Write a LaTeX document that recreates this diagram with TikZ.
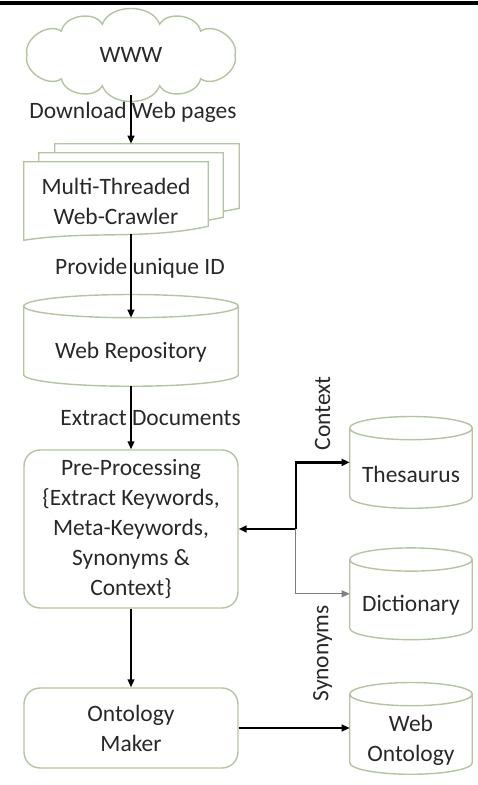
\documentclass[tikz,border=0pt]{standalone}
\usepackage{fontspec}
\setmainfont{Carlito}
\usetikzlibrary{arrows.meta,positioning,backgrounds,calc}

\definecolor{boxgreen}{RGB}{178,196,160}
\definecolor{inkgray}{RGB}{40,40,40}

\tikzset{
  every node/.style={font=\fontsize{16.7}{21.3}\selectfont, text=inkgray, align=center},
  boxline/.style={draw=boxgreen, line width=1pt},
  flow/.style={-{Triangle[length=2mm,width=1.7mm]}, line width=1.1pt, black},
  pagebox/.style={minimum width=4.6cm, minimum height=1.95cm, inner sep=0pt},
  dbstore/.style={minimum width=3.05cm, minimum height=1.7cm, inner sep=0pt},
  procbox/.style={boxline, rounded corners=0.4cm, minimum width=5.35cm, inner sep=0pt}
}

\begin{document}
\begin{tikzpicture}
    \useasboundingbox (0,0) rectangle (11.95,19.625);
    % Rule at the top
    \draw[line width=2.2pt] (0,19.55) -- (11.95,19.55);

    % Source cloud
    \node[minimum width=5.4cm, minimum height=2cm, inner sep=0pt] (www) at (3.275,18.25) {WWW};
    \draw[boxline, shift={(www.center)}] (0:2.6 and 0.8)
        \foreach \a in {48,74,106,132,180,228,254,286,312,360} { to[bend right=70] (\a:2.6 and 0.8) };

    % Crawler (stack of pages)
    \node[pagebox] (crawler) at (2.9,14.6) {Multi-Threaded\\Web-Crawler};
    \node[pagebox] (crawlmid) at (3.275,14.825) {};
    \node[pagebox] (crawlback) at (3.675,15.05) {};
    \begin{scope}[on background layer]
        \foreach \pg in {crawlback,crawlmid,crawler}
            \draw[boxline, fill=white] (\pg.north west) -- (\pg.north east) -- ([yshift=0.35cm]\pg.south east)
                .. controls +(-1.6,-0.35) and +(1.6,0.25) .. (\pg.south west) -- cycle;
    \end{scope}

    % Main column
    \node[dbstore, minimum width=5.35cm] (repo) at (3.275,10.825) {Web Repository};
    \node[procbox, minimum height=3.95cm] (pre) at (3.275,6.4) {Pre-Processing\\\{Extract Keywords,\\Meta-Keywords,\\Synonyms \&\\Context\}};
    \node[procbox, minimum height=2cm] (maker) at (3.275,1.425) {Ontology\\Maker};

    % Stores on the right
    \node[dbstore] (thes) at (10.275,7.775) {Thesaurus};
    \node[dbstore] (dict) at (10.275,4.49) {Dictionary};
    \node[dbstore] (webonto) at (10.275,1.125) {Web\\Ontology};
    \foreach \db in {repo,thes,dict,webonto}
        \draw[boxline] let \p1=(\db.north west), \p2=(\db.south east), \n1={0.5*(\x2-\x1)} in
            (\x1,\y1+0.29cm) -- (\x1,\y2+0.29cm)
            arc[start angle=180, end angle=360, x radius=\n1, y radius=0.29cm]
            -- (\x2,\y1+0.29cm)
            arc[start angle=0, end angle=360, x radius=\n1, y radius=0.29cm];

    \coordinate (hub) at ($(pre.east)+(1.425,0)$);

    % Connectors
    \draw[flow] (www.south) -- (www.south |- crawlback.north) node[pos=0.35, xshift=0.05cm] {Download Web pages};
    \draw[flow] ($(crawler.south -| repo.north)+(0,0.16)$) -- (repo.north) node[pos=0.41, xshift=0.225cm] {Provide unique ID};
    \draw[flow] (repo.south) -- (pre.north) node[midway, xshift=0.49cm] {Extract Documents};
    \draw[flow] (pre.south) -- (maker.north);
    \draw[flow] (maker.east) -- (maker.east -| webonto.west);
    \draw[flow, line width=1.6pt] (hub) -- (pre.east);
    \draw[flow, line width=1.6pt] (hub) |- ([yshift=0.29cm]thes.west) node[pos=0.75, rotate=90, anchor=west, inner sep=0.27cm] {Context};
    \draw[flow, line width=0.8pt, gray] (hub) |- ([yshift=0.29cm]dict.west) node[pos=0.75, rotate=90, anchor=east, inner sep=0.27cm] {Synonyms};
\end{tikzpicture}
\end{document}
